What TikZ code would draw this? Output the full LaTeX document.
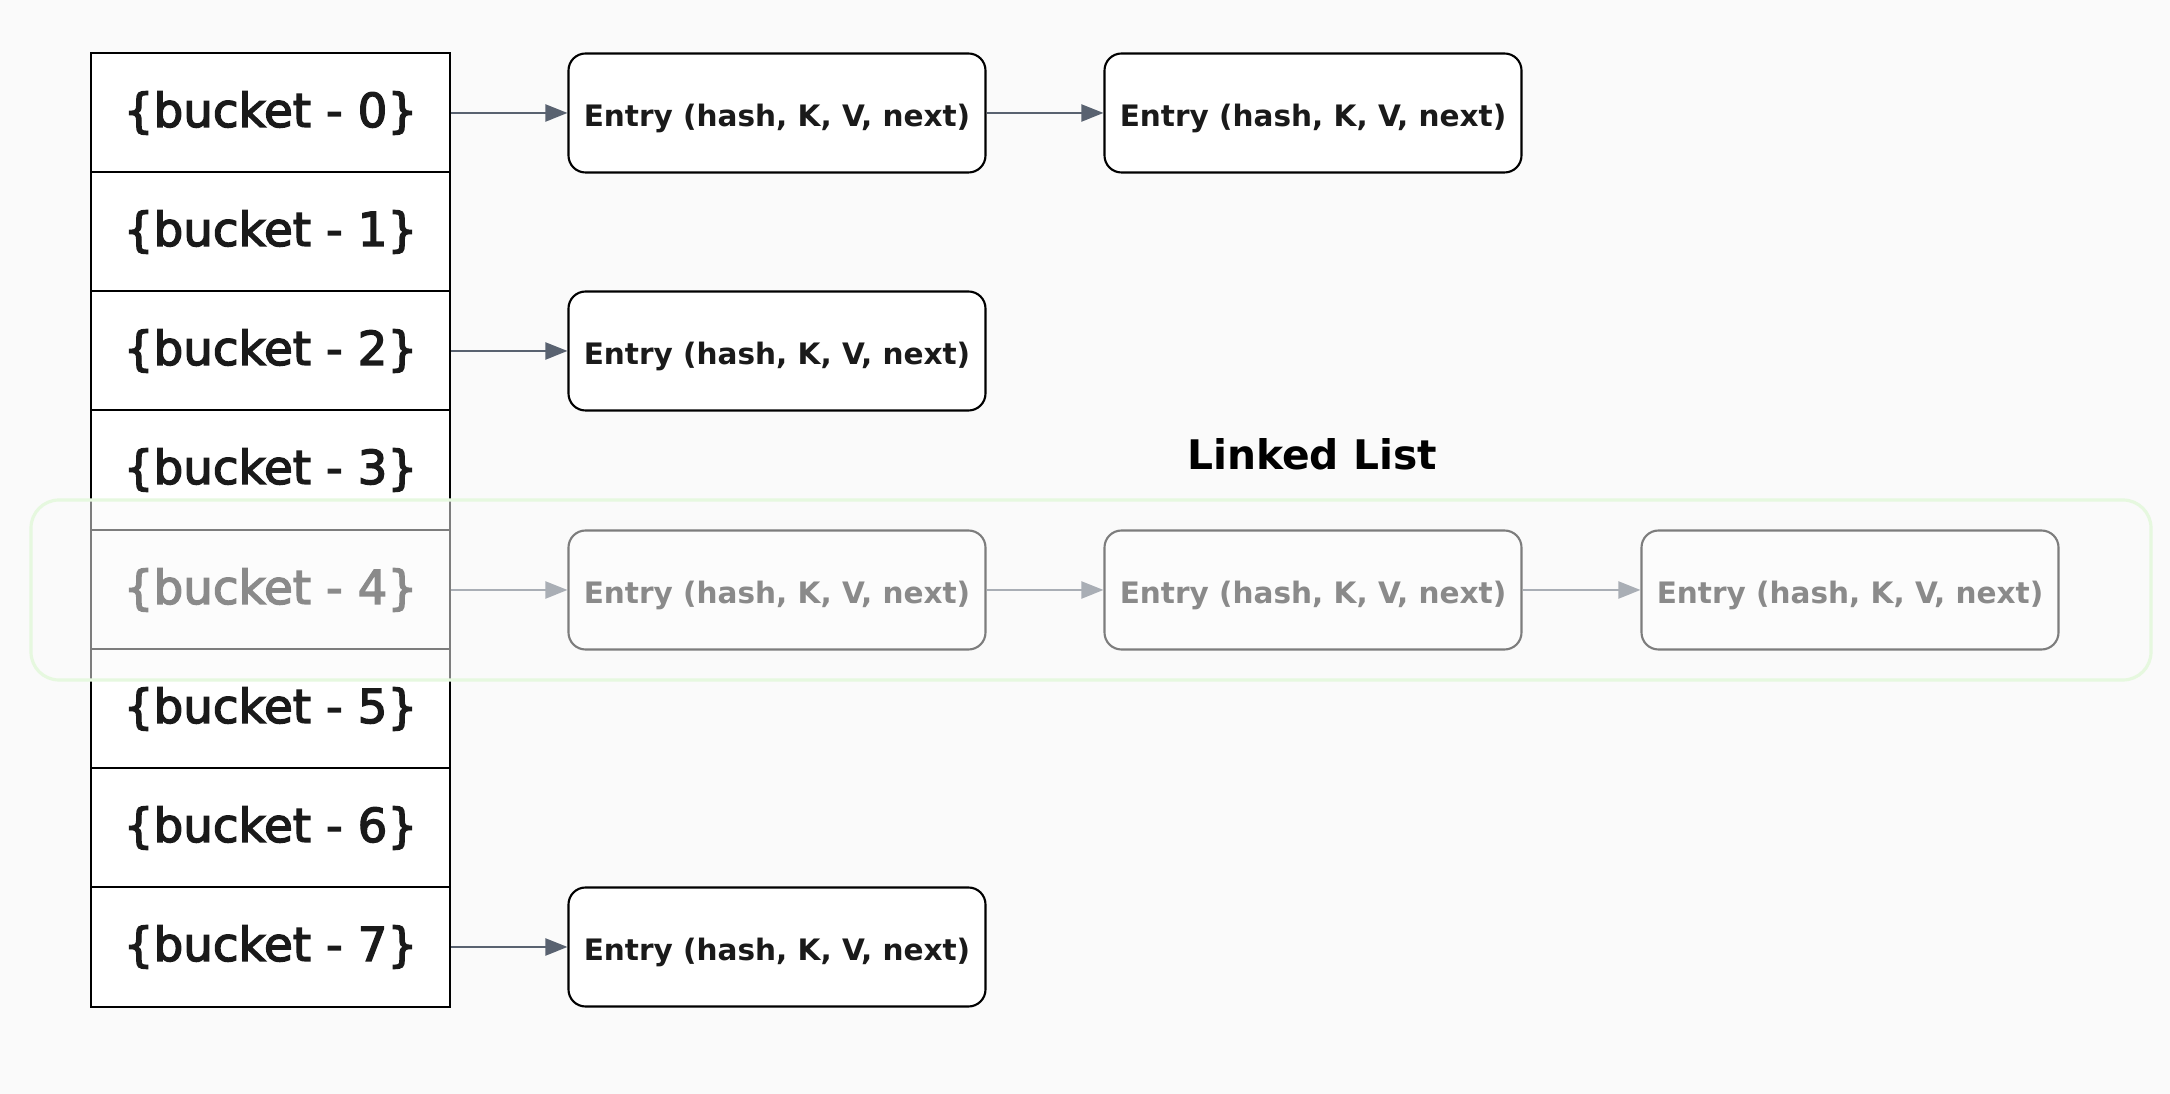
\documentclass[tikz,border=0pt]{standalone}
\usepackage{fontspec}
\setmainfont{DejaVu Sans}
\newfontfamily\semibold[FakeBold=3]{DejaVu Sans}
\usepackage{xcolor}
\usepackage{tikz}
\usetikzlibrary{arrows.meta, positioning, calc}
\definecolor{hmbg}{HTML}{FAFAFA}
\definecolor{hmink}{HTML}{1A1A1A}
\definecolor{hmarrow}{HTML}{596270}
\definecolor{hmgreen}{HTML}{E6F8DF}

\tikzset{
  bucketbox/.style={draw=black,fill=white,line width=0.6pt,minimum width=3.59cm,
    minimum height=1.1925cm,inner sep=0pt,text=hmink,font=\semibold\fontsize{13.3}{15}\selectfont},
  entrybox/.style={draw=black,fill=white,line width=0.6pt,rounded corners=0.17cm,
    minimum width=4.17cm,minimum height=1.19cm,inner sep=0pt,text=hmink,
    text height=8.7pt,text depth=1.1pt,font=\bfseries\fontsize{8.4}{10}\selectfont},
  link/.style={draw=hmarrow,line width=0.6pt,-{Triangle[length=2.2mm,width=1.7mm]}},
  highlight/.style={draw=hmgreen,line width=0.9pt,fill=hmbg,fill opacity=0.5,
    rounded corners=0.28cm,minimum width=21.2cm,minimum height=1.8cm}
}

\begin{document}
\begin{tikzpicture}
\fill[hmbg] (0,0) rectangle (21.70,10.94);
\useasboundingbox (0,0) rectangle (21.70,10.94);

% bucket array
\node[bucketbox] (b0) at (2.705,9.81) {\{bucket - 0\}};
\node[bucketbox] (b1) at (2.705,8.62) {\{bucket - 1\}};
\node[bucketbox] (b2) at (2.705,7.43) {\{bucket - 2\}};
\node[bucketbox] (b3) at (2.705,6.24) {\{bucket - 3\}};
\node[bucketbox] (b4) at (2.705,5.04) {\{bucket - 4\}};
\node[bucketbox] (b5) at (2.705,3.85) {\{bucket - 5\}};
\node[bucketbox] (b6) at (2.705,2.66) {\{bucket - 6\}};
\node[bucketbox] (b7) at (2.705,1.47) {\{bucket - 7\}};

% entries
\node[entrybox] (e00) at (7.77,9.81) {Entry (hash, K, V, next)};
\node[entrybox] (e01) at (13.13,9.81) {Entry (hash, K, V, next)};
\node[entrybox] (e20) at (7.77,7.43) {Entry (hash, K, V, next)};
\node[entrybox] (e40) at (7.77,5.04) {Entry (hash, K, V, next)};
\node[entrybox] (e41) at (13.13,5.04) {Entry (hash, K, V, next)};
\node[entrybox] (e42) at (18.50,5.04) {Entry (hash, K, V, next)};
\node[entrybox] (e70) at (7.77,1.47) {Entry (hash, K, V, next)};

\node[text=black,font=\bfseries\fontsize{11.6}{14}\selectfont] (title) at (13.12,6.40) {Linked List};

\draw[link] (b0) -- (e00);
\draw[link] (e00) -- (e01);
\draw[link] (b2) -- (e20);
\draw[link] (b4) -- (e40);
\draw[link] (e40) -- (e41);
\draw[link] (e41) -- (e42);
\draw[link] (b7) -- (e70);

% faded band over bucket 4
\node[highlight] (band) at (10.91,5.04) {};
\end{tikzpicture}
\end{document}
